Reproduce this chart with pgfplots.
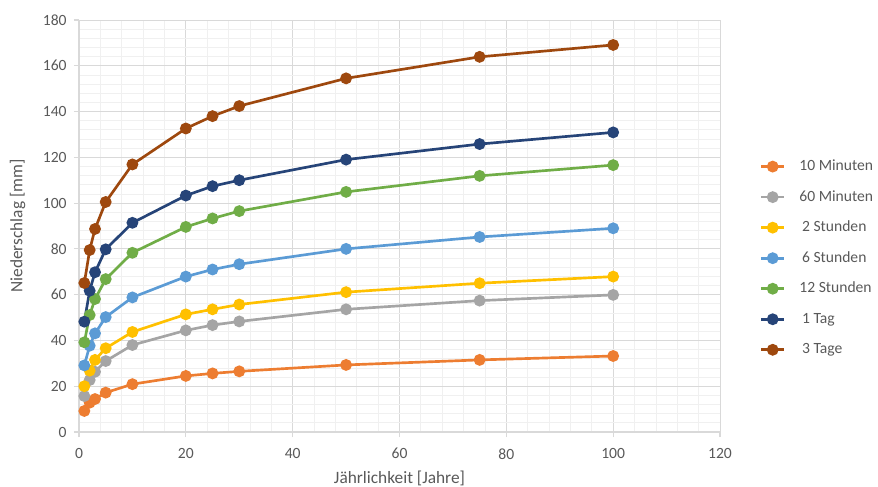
\documentclass[border=0pt]{standalone}
\usepackage{fontspec}
\setmainfont{Carlito}
\usepackage{pgfplots}
\pgfplotsset{compat=1.18}
\definecolor{c1}{HTML}{ED7D31}
\definecolor{c2}{HTML}{A5A5A5}
\definecolor{c3}{HTML}{FFC000}
\definecolor{c4}{HTML}{5B9BD5}
\definecolor{c5}{HTML}{70AD47}
\definecolor{c6}{HTML}{264478}
\definecolor{c7}{HTML}{9E480E}
\definecolor{txt}{HTML}{595959}
\definecolor{gridmaj}{HTML}{D9D9D9}
\definecolor{gridmin}{HTML}{F0F0F0}
\begin{document}
\begin{tikzpicture}
\path[use as bounding box] (0,0) rectangle (658.5pt,364.5pt);
\begin{axis}[
  at={(59.25pt,40.5pt)}, anchor=south west, scale only axis,
  width=480.75pt, height=309pt,
  xmin=0, xmax=120, ymin=0, ymax=180,
  xtick={0,20,...,120}, ytick={0,20,...,180},
  minor tick num=4,
  grid=both,
  major grid style={draw=gridmaj, line width=0.7pt},
  minor grid style={draw=gridmin, line width=0.6pt},
  axis lines=left,
  axis line style={-, draw=gridmaj, line width=0.8pt},
  tick align=outside,
  major tick length=3.75pt, minor tick length=0pt,
  tick style={draw=gridmaj, line width=0.8pt},
  /pgf/number format/assume math mode=true,
  ticklabel style={font=\fontsize{11.7}{14}\selectfont, text=txt},
  xticklabel style={yshift=-5pt},
  yticklabel style={xshift=-2pt},
  xlabel={Jährlichkeit [Jahre]},
  ylabel={Niederschlag [mm]},
  every axis x label/.style={at={(axis description cs:0.5,-0.1238)}, anchor=base, font=\fontsize{13}{15}\selectfont, text=txt},
  every axis y label/.style={at={(axis description cs:-0.0959,0.5)}, anchor=center, rotate=90, font=\fontsize{13}{15}\selectfont, text=txt},
  every axis plot/.append style={line width=2pt, mark=*, mark size=3.4pt, mark options={solid}},
  legend cell align=left,
  legend style={at={(1.0624,0.662)}, anchor=north west, draw=none, fill=none,
    font=\fontsize{11.7}{14}\selectfont, text=txt, inner sep=0pt, outer sep=0pt,
    nodes={inner sep=0pt, text height=8.5pt, text depth=2.5pt},
    row sep=11.9pt,
    /tikz/every odd column/.append style={column sep=10.5pt}},
]
\addplot[color=c1] coordinates {(1,9.2) (2,12.8) (3,14.4) (5,17.2) (10,20.9) (20,24.5) (25,25.6) (30,26.5) (50,29.3) (75,31.5) (100,33.2)};
\addlegendentry{10 Minuten}
\addplot[color=c2] coordinates {(1,15.7) (2,22.7) (3,26.3) (5,31.0) (10,38.0) (20,44.4) (25,46.7) (30,48.3) (50,53.6) (75,57.4) (100,59.9)};
\addlegendentry{60 Minuten}
\addplot[color=c3] coordinates {(1,20.0) (2,26.8) (3,31.5) (5,36.6) (10,43.7) (20,51.4) (25,53.6) (30,55.7) (50,61.1) (75,65.0) (100,67.9)};
\addlegendentry{\hspace{2pt}2 Stunden}
\addplot[color=c4] coordinates {(1,29.1) (2,37.7) (3,43.1) (5,50.2) (10,58.8) (20,67.9) (25,71.0) (30,73.3) (50,80.0) (75,85.2) (100,89.0)};
\addlegendentry{\hspace{2pt}6 Stunden}
\addplot[color=c5] coordinates {(1,39.2) (2,51.1) (3,58.1) (5,66.8) (10,78.3) (20,89.6) (25,93.3) (30,96.5) (50,104.9) (75,111.9) (100,116.6)};
\addlegendentry{12 Stunden}
\addplot[color=c6] coordinates {(1,48.2) (2,61.7) (3,69.8) (5,79.8) (10,91.4) (20,103.3) (25,107.4) (30,110.0) (50,119.0) (75,125.8) (100,130.9)};
\addlegendentry{\hspace{2pt}1 Tag}
\addplot[color=c7] coordinates {(1,65.1) (2,79.5) (3,88.7) (5,100.5) (10,116.9) (20,132.6) (25,138.0) (30,142.4) (50,154.5) (75,163.9) (100,169.1)};
\addlegendentry{\hspace{2pt}3 Tage}
\end{axis}
\end{tikzpicture}
\end{document}
